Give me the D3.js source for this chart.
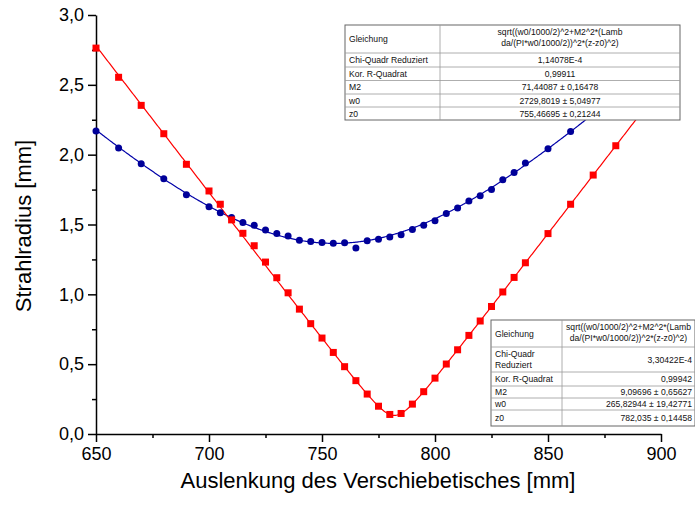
<!DOCTYPE html>
<html>
<head>
<meta charset="utf-8">
<script src="https://cdn.jsdelivr.net/npm/d3@7"></script>
<style>
  body { margin: 0; background: #fff; }
  svg { font-family: "Liberation Sans", Arial, sans-serif; }
</style>
</head>
<body>
<div id="chart"></div>
<script>
// measured beam radius, blue series
const blueZ = [650, 660, 670, 680, 690, 700, 705, 710, 715, 720, 725, 730, 735, 740, 745, 750, 755, 760, 765, 770,
               775, 780, 785, 790, 795, 800, 805, 810, 815, 820, 825, 830, 835, 840, 850, 860, 870, 880, 890, 900];
const blueW = [2.169, 2.047, 1.935, 1.828, 1.713, 1.627, 1.584, 1.550, 1.514, 1.494, 1.460, 1.435, 1.417, 1.388, 1.379,
               1.372, 1.365, 1.369, 1.331, 1.384, 1.394, 1.410, 1.427, 1.465, 1.494, 1.527, 1.579, 1.619, 1.669, 1.705,
               1.751, 1.820, 1.873, 1.940, 2.043, 2.165, 2.292, 2.423, 2.557, 2.703];
// measured beam radius, red series
const redZ = blueZ;
const redW = [2.763, 2.554, 2.353, 2.150, 1.931, 1.740, 1.645, 1.533, 1.437, 1.348, 1.231, 1.119, 1.011, 0.894, 0.790,
              0.687, 0.584, 0.482, 0.382, 0.286, 0.199, 0.140, 0.147, 0.214, 0.303, 0.400, 0.501, 0.603, 0.706, 0.809,
              0.913, 1.017, 1.121, 1.226, 1.435, 1.645, 1.854, 2.064, 2.274, 2.477];

// fit parameters as shown in the tables: [w0, M2, z0]
const blueFit = [2729.8019, 71.44087, 755.46695];
const redFit = [265.82944, 9.09696, 782.035];
const lambda = 9.65e-4;

const blueTable = [
  ["Gleichung", "sqrt((w0/1000/2)^2+M2^2*(Lamb|da/(PI*w0/1000/2))^2*(z-z0)^2)"],
  ["Chi-Quadr Reduziert", "1,14078E-4"],
  ["Kor. R-Quadrat", "0,99911"],
  ["M2", "71,44087 ± 0,16478"],
  ["w0", "2729,8019 ± 5,04977"],
  ["z0", "755,46695 ± 0,21244"]
];
const redTable = [
  ["Gleichung", "sqrt((w0/1000/2)^2+M2^2*(Lamb|da/(PI*w0/1000/2))^2*(z-z0)^2)"],
  ["Chi-Quadr|Reduziert", "3,30422E-4"],
  ["Kor. R-Quadrat", "0,99942"],
  ["M2", "9,09696 ± 0,65627"],
  ["w0", "265,82944 ± 19,42771"],
  ["z0", "782,035 ± 0,14458"]
];

const xTicks = [650, 700, 750, 800, 850, 900];
const yTicks = [0, 0.5, 1, 1.5, 2, 2.5, 3];

const width = 695, height = 507;
const svg = d3.select("#chart").append("svg")
    .attr("width", width)
    .attr("height", height);

const x = d3.scaleLinear().domain([650, 900]).range([96, 661]);
const y = d3.scaleLinear().domain([0, 3]).range([434, 15]);

const comma = d => d3.format(".1f")(d).replace(".", ",");

// minor ticks
svg.append("g")
    .attr("transform", "translate(0,434)")
    .call(d3.axisBottom(x).tickValues(d3.range(675, 900, 50)).tickSize(4).tickFormat(""))
    .call(g => g.select(".domain").remove());
svg.append("g")
    .attr("transform", "translate(96,0)")
    .call(d3.axisLeft(y).tickValues(d3.range(0.25, 3, 0.5)).tickSize(4).tickFormat(""))
    .call(g => g.select(".domain").remove());

const xAxis = svg.append("g")
    .attr("transform", "translate(0,434)")
    .call(d3.axisBottom(x).tickValues(xTicks).tickSize(8).tickSizeOuter(0).tickPadding(5).tickFormat(d3.format("d")));
xAxis.selectAll("text").style("font-size", "18px").attr("fill", "#000");

const yAxis = svg.append("g")
    .attr("transform", "translate(96,0)")
    .call(d3.axisLeft(y).tickValues(yTicks).tickSize(8).tickSizeOuter(0).tickPadding(4).tickFormat(comma));
yAxis.selectAll("text").style("font-size", "18px").attr("fill", "#000");

svg.selectAll(".domain, .tick line").attr("stroke", "#000").attr("stroke-width", 1.5);

svg.append("text")
    .attr("x", 378).attr("y", 488)
    .attr("text-anchor", "middle")
    .style("font-size", "22px")
    .text("Auslenkung des Verschiebetisches [mm]");

svg.append("text")
    .attr("transform", "translate(31,226) rotate(-90)")
    .attr("text-anchor", "middle")
    .style("font-size", "22px")
    .text("Strahlradius [mm]");

// fit curves
function beam(p) {
  const r0 = p[0] / 1000 / 2;
  return z => Math.sqrt(r0 * r0 + p[1] * p[1] * Math.pow(lambda / (Math.PI * r0), 2) * (z - p[2]) * (z - p[2]));
}
const zs = d3.range(650, 900.01, 0.5);
const line = d3.line().x(d => x(d[0])).y(d => y(d[1]));

const redF = beam(redFit), blueF = beam(blueFit);
svg.append("path")
    .attr("d", line(zs.map(z => [z, blueF(z)])))
    .attr("fill", "none").attr("stroke", "#0000a8").attr("stroke-width", 1.2);
svg.append("path")
    .attr("d", line(zs.map(z => [z, redF(z)])))
    .attr("fill", "none").attr("stroke", "#ff0000").attr("stroke-width", 1.2);

svg.append("g").selectAll("circle")
    .data(blueZ.map((z, i) => [z, blueW[i]]))
    .enter().append("circle")
    .attr("cx", d => x(d[0]))
    .attr("cy", d => y(d[1]))
    .attr("r", 3.5)
    .attr("fill", "#000099");

svg.append("g").selectAll("rect")
    .data(redZ.map((z, i) => [z, redW[i]]))
    .enter().append("rect")
    .attr("x", d => x(d[0]) - 3.5)
    .attr("y", d => y(d[1]) - 3.5)
    .attr("width", 7).attr("height", 7)
    .attr("fill", "#ff0000");

// parameter tables
function drawTable(rows, left, top, col1, col2, rowH, align) {
  const g = svg.append("g").attr("transform", `translate(${left},${top})`);
  const w = col1 + col2;
  const total = d3.sum(rowH);
  g.append("rect").attr("width", w).attr("height", total)
      .attr("fill", "#fff").attr("stroke", "#666").attr("stroke-width", 1);
  let yy = 0;
  rows.forEach((r, i) => {
    if (i > 0) g.append("line").attr("x1", 0).attr("x2", w).attr("y1", yy).attr("y2", yy)
        .attr("stroke", "#999").attr("stroke-width", 0.8);
    [0, 1].forEach(c => {
      const parts = r[c].split("|");
      const t = g.append("text")
          .style("font-size", "8.6px")
          .attr("fill", "#111");
      let tx;
      if (c === 0) { tx = 4; t.attr("text-anchor", "start"); }
      else if (align === "middle" || parts.length > 1) { tx = col1 + col2 / 2; t.attr("text-anchor", "middle"); }
      else { tx = w - 3; t.attr("text-anchor", "end"); }
      const cy = yy + rowH[i] / 2;
      parts.forEach((p, k) => {
        const off = parts.length > 1 ? (k === 0 ? -5 : 6) : 0;
        const ty = (c === 1 && parts.length > 1) ? cy + (k === 0 ? -4 : 7) : cy + off + 3;
        t.append("tspan").attr("x", tx).attr("y", c === 0 && parts.length > 1 ? yy + 10 + k * 11 : ty).text(p);
      });
    });
    yy += rowH[i];
  });
  g.append("line").attr("x1", col1).attr("x2", col1).attr("y1", 0).attr("y2", total)
      .attr("stroke", "#999").attr("stroke-width", 0.8);
}

drawTable(blueTable, 345, 25, 95, 240, [28, 14, 13.5, 13.5, 13, 13], "middle");
drawTable(redTable, 491, 320, 71, 133, [27, 25, 14, 12, 12, 16], "end");
</script>
</body>
</html>
